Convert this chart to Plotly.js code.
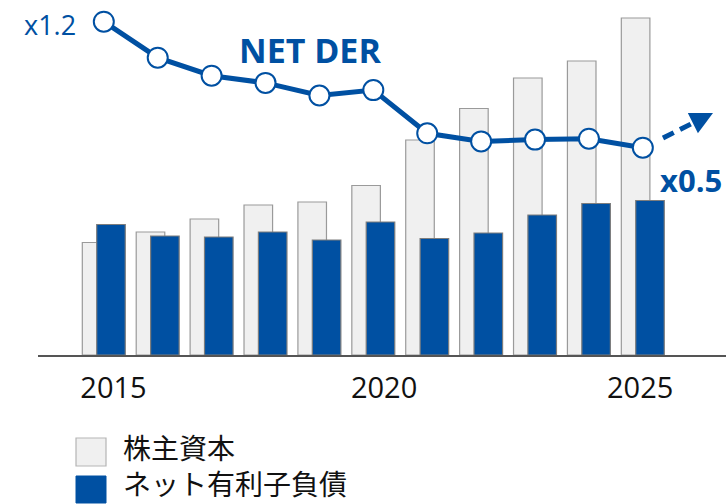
<!DOCTYPE html>
<html>
<head>
<meta charset="utf-8">
<script src="https://cdn.plot.ly/plotly-3.0.1.min.js"></script>
<style>
  html, body { margin: 0; padding: 0; background: #fff; }
  #chart { width: 726px; height: 504px; }
</style>
</head>
<body>
<div id="chart"></div>
<script>
// years shown on the axis
const years = [2015, 2016, 2017, 2018, 2019, 2020, 2021, 2022, 2023, 2024, 2025];
// 株主資本 (relative units)
const equity = [11.25, 12.3, 13.6, 15.0, 15.3, 16.95, 21.5, 24.65, 27.7, 29.4, 33.7];
// ネット有利子負債
const netDebt = [13.05, 11.9, 11.8, 12.3, 11.5, 13.3, 11.65, 12.2, 14.0, 15.15, 15.45];
// NET DER (x)
const netDer = [1.2, 1.0, 0.9, 0.86, 0.79, 0.82, 0.58, 0.535, 0.545, 0.55, 0.5];
// tick labels
const tickYears = ['2015', '2020', '2025'];
const tickPos = [2015.18, 2020.2, 2024.95];
const legendNames = ['株主資本', 'ネット有利子負債'];

const BLUE = '#0050a2';
const GRAY_FILL = '#f0f0f0';

// plot area in pixels, used to place the decorations
const W = 726, H = 504;
const M = {l: 38, r: 0, t: 10, b: 149};
const plotW = W - M.l - M.r, plotH = H - M.t - M.b;
const px = x => (x - M.l) / plotW;
const py = y => (H - M.b - y) / plotH;

const traces = [
  {
    type: 'bar', x: years, y: equity, name: legendNames[0],
    width: 0.53, offset: -0.399,
    marker: {color: GRAY_FILL, line: {color: '#9a9a9a', width: 1.2}},
    showlegend: false, hoverinfo: 'skip'
  },
  {
    type: 'bar', x: years, y: netDebt, name: legendNames[1],
    width: 0.53, offset: -0.132,
    marker: {color: BLUE, line: {color: '#7d7d7d', width: 1.2}},
    showlegend: false, hoverinfo: 'skip'
  },
  {
    type: 'scatter', mode: 'lines+markers', x: years, y: netDer, yaxis: 'y2',
    line: {color: BLUE, width: 5},
    marker: {size: 20, color: '#fff', line: {color: BLUE, width: 2}},
    showlegend: false, hoverinfo: 'skip'
  }
];

const latin = 'Open Sans, Noto Sans, sans-serif';
const cjk = 'Noto Sans CJK JP, sans-serif';

const annotations = [
  {x: px(50), y: py(25), text: 'x1.2', font: {family: latin, size: 27, color: BLUE}},
  {x: px(310), y: py(50), text: '<b>NET DER</b>', font: {family: latin, size: 34, color: BLUE}},
  {x: px(691), y: py(180), text: '<b>x0.5</b>', font: {family: latin, size: 31, color: BLUE}},
  // hand-drawn legend (two lines in one text block)
  {x: px(122), y: py(503.5), text: legendNames.join('<br>'), xanchor: 'left', yanchor: 'bottom',
   align: 'left', borderpad: 0, font: {family: cjk, size: 28, color: '#111'}},
  // arrow head of the dashed trend arrow
  {x: px(713), y: py(113), ax: -12, ay: 6, text: '', showarrow: true,
   arrowhead: 2, arrowsize: 0.9, arrowwidth: 5, arrowcolor: BLUE}
].map(a => Object.assign({xref: 'paper', yref: 'paper', showarrow: false, xanchor: 'center', yanchor: 'middle'}, a));

const shapes = [
  {type: 'line', xref: 'paper', yref: 'paper', x0: px(663), y0: py(138), x1: px(702), y1: py(118.5),
   line: {color: BLUE, width: 5, dash: '12px,7px'}},
  {type: 'rect', xref: 'paper', yref: 'paper', x0: px(76), y0: py(466), x1: px(106), y1: py(438),
   fillcolor: GRAY_FILL, line: {color: '#b5b5b5', width: 1.2}},
  {type: 'rect', xref: 'paper', yref: 'paper', x0: px(76), y0: py(503), x1: px(106), y1: py(476),
   fillcolor: BLUE, line: {color: BLUE, width: 1}}
];

const layout = {
  width: W, height: H,
  margin: M,
  paper_bgcolor: '#fff', plot_bgcolor: '#fff',
  barmode: 'overlay',
  showlegend: false,
  xaxis: {
    range: [2013.779, 2026.543],
    tickvals: tickPos, ticktext: tickYears,
    ticks: '', ticklabelstandoff: 6,
    tickfont: {family: latin, size: 29, color: '#111'},
    showgrid: false, zeroline: false,
    showline: true, linecolor: '#555', linewidth: 2
  },
  yaxis: {range: [0, 34.5], visible: false, showgrid: false, zeroline: false},
  yaxis2: {range: [-0.6517, 1.265], overlaying: 'y', visible: false, showgrid: false, zeroline: false},
  annotations: annotations,
  shapes: shapes
};

Plotly.newPlot('chart', traces, layout, {displayModeBar: false, staticPlot: true});
</script>
</body>
</html>
